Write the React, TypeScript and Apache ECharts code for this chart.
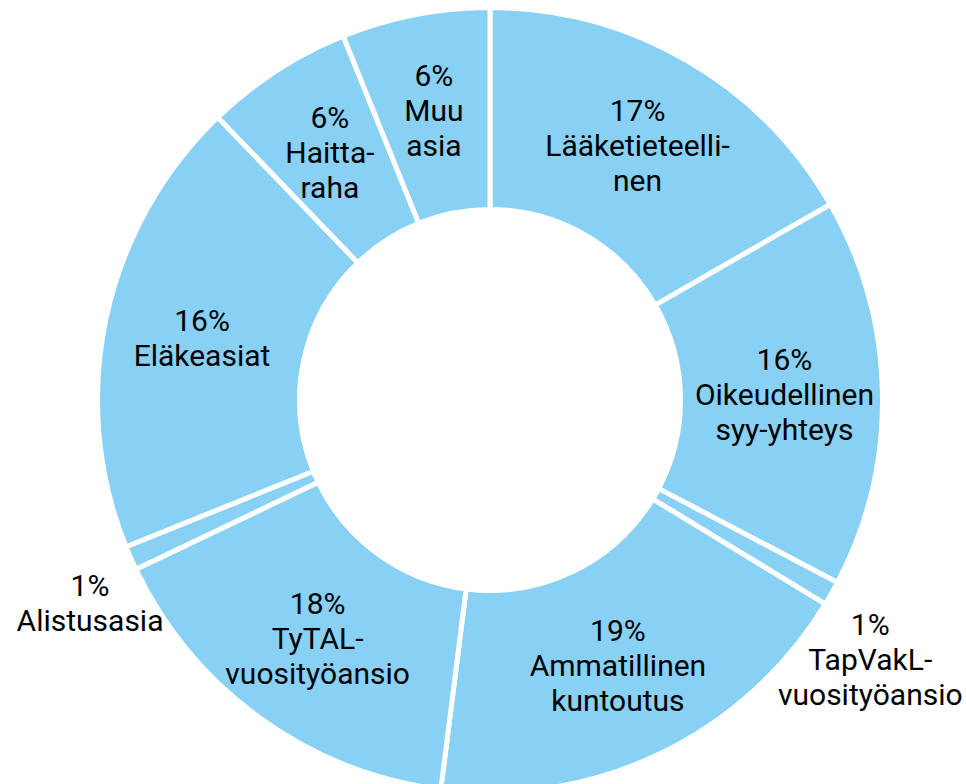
import React, { useEffect, useRef } from "react";
import * as echarts from "echarts";

// Slice names (line breaks as in the reference)
const categories: string[] = [
  "Lääketieteelli-\nnen",
  "Oikeudellinen\nsyy-yhteys",
  "TapVakL-\nvuosityöansio",
  "Ammatillinen\nkuntoutus",
  "TyTAL-\nvuosityöansio",
  "Alistusasia",
  "Eläkeasiat",
  "Haitta-\nraha",
  "Muu\nasia",
];
// Slice sizes (percent of the ring)
const values: number[] = [16.7, 16.0, 1.0, 18.3, 15.9, 1.0, 18.9, 6.1, 6.1];
// Percent texts printed on the chart
const percentLabels: string[] = ["17%", "16%", "1%", "19%", "18%", "1%", "16%", "6%", "6%"];
// Labels that sit outside the ring
const outsideLabel: boolean[] = [false, false, true, false, false, true, false, false, false];

const LINE_H = 35;

export default function App() {
  const ref = useRef<HTMLDivElement>(null);
  useEffect(() => {
    if (!ref.current) return;
    const chart = echarts.init(ref.current, undefined, { renderer: "svg" });
    const font = {
      fontFamily: "Roboto",
      fontSize: 30,
      lineHeight: LINE_H,
      color: "#000000",
    };
    const fmt = (p: any) => percentLabels[p.dataIndex] + "\n" + categories[p.dataIndex];
    // outside labels: first line ("1%") sits on the anchor point
    const fmtOut = (p: any) => {
      const nameLines = categories[p.dataIndex].split("\n").length;
      return "\n".repeat(nameLines) + fmt(p);
    };
    chart.setOption({
      animation: false,
      backgroundColor: "#ffffff",
      series: [
        {
          type: "pie",
          center: [490, 400],
          radius: [190.5, 392.5],
          startAngle: 90,
          clockwise: true,
          silent: true,
          emphasis: { disabled: true },
          itemStyle: { color: "#89d0f5", borderColor: "#ffffff", borderWidth: 5 },
          label: { show: true, position: "inside", formatter: fmt, ...font },
          labelLine: { show: false },
          data: values.map((v, i) => ({
            name: categories[i],
            value: v,
            label: { show: !outsideLabel[i] },
          })),
        },
        {
          // invisible helper ring that only carries the outside labels
          type: "pie",
          center: [490, 409],
          radius: [411, 457],
          startAngle: 90,
          clockwise: true,
          silent: true,
          emphasis: { disabled: true },
          itemStyle: { color: "rgba(0,0,0,0)", borderWidth: 0 },
          label: { show: true, position: "inside", formatter: fmtOut, ...font },
          labelLine: { show: false },
          data: values.map((v, i) => ({
            name: categories[i],
            value: v,
            label: { show: outsideLabel[i] },
          })),
        },
      ],
    });
    return () => chart.dispose();
  }, []);
  return (
    <div
      ref={ref}
      style={{ position: "absolute", left: 0, top: 0, width: 966, height: 784 }}
    />
  );
}
